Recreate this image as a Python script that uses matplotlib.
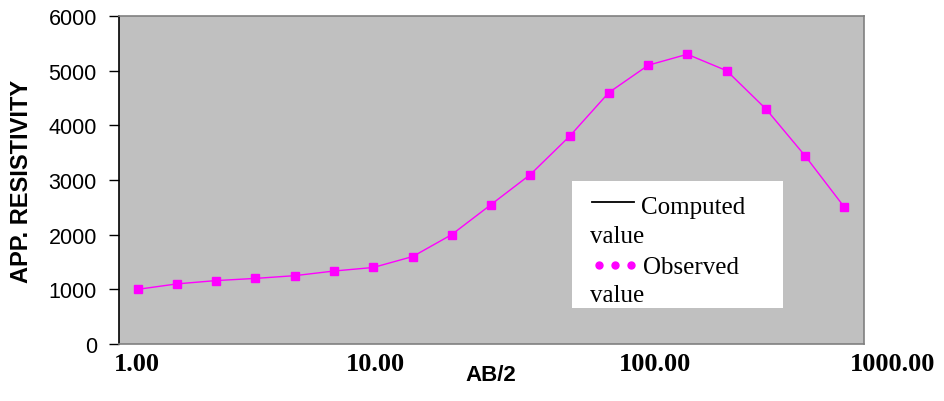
import matplotlib
matplotlib.use("Agg")
import matplotlib.pyplot as plt
from matplotlib.patches import Rectangle
from matplotlib.lines import Line2D

# ---- data ----
ab2 = [1.0, 1.47, 2.15, 3.16, 4.64, 6.81, 10.0, 14.7, 21.5, 31.6,
       46.4, 68.1, 100.0, 147.0, 215.0, 316.0, 464.0, 681.0, 1000.0]
observed = [1000, 1100, 1160, 1200, 1250, 1335, 1400, 1600, 2000, 2550,
            3100, 3800, 4600, 5100, 5300, 5000, 4300, 3440, 2500]
xtick_labels = ["1.00", "10.00", "100.00", "1000.00"]
yticks = [0, 1000, 2000, 3000, 4000, 5000, 6000]

W, H = 945, 402
fig = plt.figure(figsize=(W / 100, H / 100), dpi=100)
fig.patch.set_facecolor("white")

L, R, T, B = 119, 864, 17, 345
ax = fig.add_axes([L / W, 1 - B / H, (R - L) / W, (B - T) / H])
ax.set_facecolor("#C0C0C0")

ax.plot(ab2, observed, color="#FF00FF", lw=1.0, marker="s", ms=5.5,
        mfc="#FF00FF", mec="#FF00FF", zorder=3)

ax.set_xscale("log")
ax.set_xlim(0.833, 1210)
ax.set_ylim(0, 6000)

ax.set_xticks([])
ax.minorticks_off()
ax.xaxis.set_minor_locator(matplotlib.ticker.NullLocator())

ax.set_yticks(yticks)
ax.set_yticklabels([str(v) for v in yticks], fontfamily="Liberation Sans",
                   fontsize=15.5)
ax.tick_params(axis="y", direction="out", length=7, width=1, pad=9,
               color="black")

for s in ["top", "right", "bottom"]:
    ax.spines[s].set_color("#808080")
    ax.spines[s].set_linewidth(1.2)
ax.spines["left"].set_color("black")
ax.spines["left"].set_linewidth(1.2)

# x tick labels (positions as in the reference, axes fraction)
xlab_pos = [0.024, 0.344, 0.719, 1.039]
for xp, lab in zip(xlab_pos, xtick_labels):
    ax.text(xp, -0.079, lab, transform=ax.transAxes, ha="center",
            va="baseline", fontfamily="Liberation Serif", fontweight="bold",
            fontsize=19, clip_on=False)

# axis titles
fig.text(491 / W, 1 - 376 / H, "AB/2", ha="center", va="center",
         fontfamily="Liberation Sans", fontweight="bold", fontsize=16)
fig.text(22 / W, 1 - 181 / H, "APP. RESISTIVITY", ha="center", va="center",
         rotation=90, fontfamily="Liberation Sans", fontweight="bold",
         fontsize=17)

# legend box drawn manually
def fx(px):
    return px / W

def fy(py):
    return 1 - py / H

box = Rectangle((fx(572), fy(309)), fx(783) - fx(572), fy(182) - fy(309),
                transform=fig.transFigure, facecolor="white",
                edgecolor="none", zorder=5)
fig.add_artist(box)

fig.add_artist(Line2D([fx(592), fx(634)], [fy(203), fy(203)],
                      transform=fig.transFigure, color="black", lw=1.3,
                      zorder=6))
for dxp in [599, 615, 631]:
    fig.add_artist(Line2D([fx(dxp)], [fy(266)], transform=fig.transFigure,
                          marker="o", ms=5, color="#FF00FF", mec="#FF00FF",
                          lw=0, zorder=6))

leg_font = dict(fontfamily="Liberation Serif", fontsize=18, zorder=6,
                va="baseline", ha="left")
fig.text(fx(641), fy(214), "Computed", **leg_font)
fig.text(fx(590), fy(243), "value", **leg_font)
fig.text(fx(643), fy(274), "Observed", **leg_font)
t = fig.text(fx(590), fy(302), "value", **leg_font)
t.set_clip_path(box)

fig.savefig("out.png", dpi=100, facecolor="white")
